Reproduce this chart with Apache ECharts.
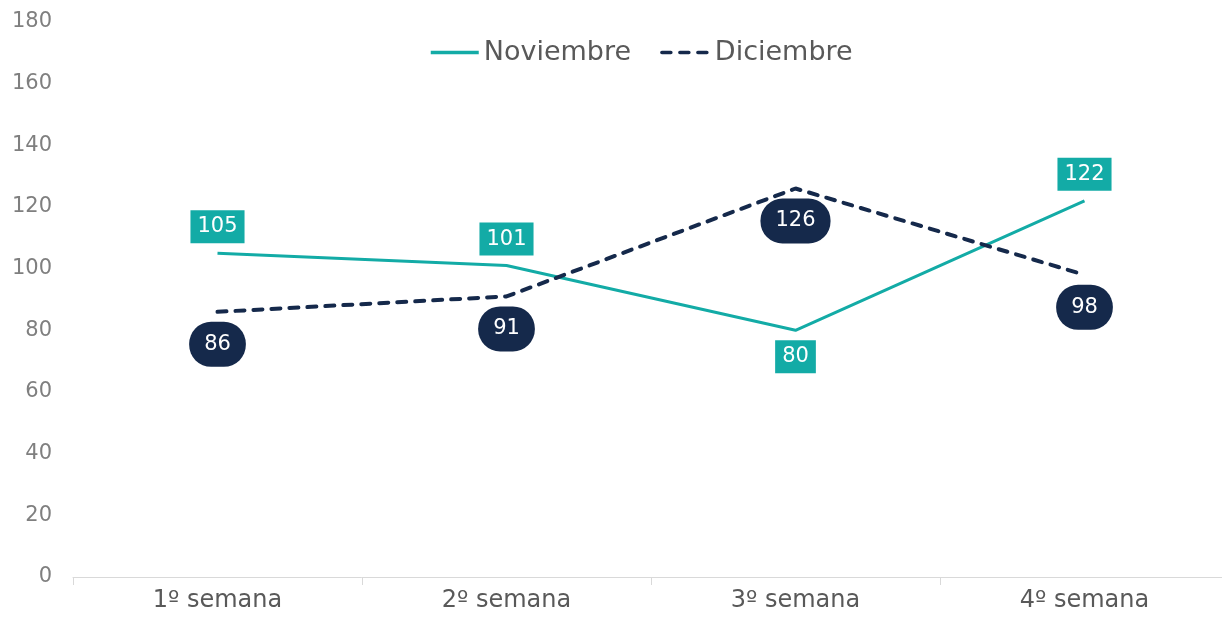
<!DOCTYPE html>
<html>
<head>
<meta charset="utf-8">
<script src="https://cdn.jsdelivr.net/npm/echarts@6/dist/echarts.min.js"></script>
<style>
  html, body { margin: 0; padding: 0; background: #fff; overflow: hidden; }
  #chart { width: 1229px; height: 624px; }
</style>
</head>
<body>
<div id="chart"></div>
<script>
// semanas del mes
var semanas = ['1º semana', '2º semana', '3º semana', '4º semana'];
var noviembre = [105, 101, 80, 122];
var diciembre = [86, 91, 126, 98];
var yTicks = { min: 0, max: 180, interval: 20 };

var teal = '#13ABA6';
var navy = '#15294B';
var font = '"DejaVu Sans", sans-serif';

// la etiqueta del mínimo de noviembre (3º semana) va debajo del punto
var noviembreData = noviembre.map(function (v, i) {
    if (i === 2) {
        return { value: v, label: { position: 'bottom' } };
    }
    return v;
});

var myChart = echarts.init(document.getElementById('chart'));

var option = {
    animation: false,
    textStyle: { fontFamily: font },
    grid: { left: 73, right: 0, top: 22, bottom: 47 },
    legend: {
        top: 34,
        left: 424,
        itemWidth: 48,
        itemHeight: 14,
        itemGap: 29,
        itemStyle: { opacity: 0 },
        lineStyle: { width: 3.5 },
        textStyle: { fontSize: 27, color: '#595959', fontFamily: font },
        data: ['Noviembre', 'Diciembre']
    },
    xAxis: {
        type: 'category',
        data: semanas,
        boundaryGap: true,
        axisLine: { lineStyle: { color: '#d9d9d9', width: 1 } },
        axisTick: { show: true, length: 8, lineStyle: { color: '#d9d9d9' } },
        axisLabel: { fontSize: 24, color: '#595959', margin: 12, fontFamily: font }
    },
    yAxis: {
        type: 'value',
        min: yTicks.min,
        max: yTicks.max,
        interval: yTicks.interval,
        splitLine: { show: false },
        axisLine: { show: false },
        axisTick: { show: false },
        axisLabel: { fontSize: 21, color: '#7f7f7f', margin: 21, fontFamily: font }
    },
    series: [
        {
            name: 'Noviembre',
            type: 'line',
            data: noviembreData,
            symbol: 'circle',
            symbolSize: 0.01,
            color: teal,
            lineStyle: { color: teal, width: 3 },
            label: {
                show: true,
                position: 'top',
                distance: 10,
                formatter: function (p) { return p.value; },
                backgroundColor: teal,
                color: '#fff',
                fontSize: 21,
                height: 33,
                lineHeight: 33,
                padding: [0, 7]
            }
        },
        {
            name: 'Diciembre',
            type: 'line',
            data: diciembre,
            symbol: 'circle',
            symbolSize: 0.01,
            color: navy,
            lineStyle: { color: navy, width: 4, type: [9, 9], cap: 'round' },
            label: {
                show: true,
                position: 'bottom',
                distance: 10,
                formatter: function (p) { return p.value; },
                backgroundColor: navy,
                color: '#fff',
                fontSize: 21,
                height: 45,
                lineHeight: 45,
                padding: [0, 15],
                borderRadius: 22
            }
        }
    ]
};

myChart.setOption(option);
</script>
</body>
</html>
